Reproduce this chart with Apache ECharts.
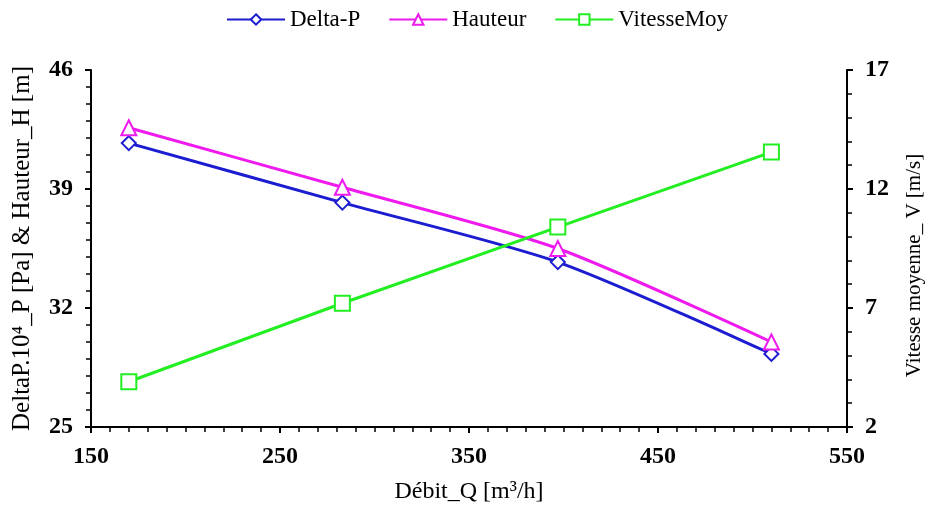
<!DOCTYPE html>
<html><head><meta charset="utf-8">
<script src="https://cdn.jsdelivr.net/npm/echarts@6/dist/echarts.min.js"></script>
<style>html,body{margin:0;padding:0;background:#fff}#c{width:927px;height:508px}</style>
</head><body><div id="c"></div>
<script>
const debit = [170, 283, 397, 510];
const deltaP = [41.7, 38.2, 34.7, 29.3];
const hauteur = [42.6, 39.1, 35.5, 30.0];
const vitesse = [3.9, 7.2, 10.4, 13.55];
const leftTicks = [25, 32, 39, 46];
const rightTicks = [2, 7, 12, 17];
const xTicks = [150, 250, 350, 450, 550];

const font = 'Liberation Serif';
const chart = echarts.init(document.getElementById('c'));
const pair = (ys) => debit.map((x, i) => [x, ys[i]]);
const axisCommon = {
  axisLine: {show: true, lineStyle: {color: '#000', width: 2}},
  axisTick: {show: true, length: 6, lineStyle: {color: '#000', width: 2}},
  minorTick: {show: true, length: 5, lineStyle: {color: '#000', width: 1.5}},
  splitLine: {show: false},
  axisLabel: {color: '#000', fontFamily: font, fontSize: 24, fontWeight: 'bold'},
  nameTextStyle: {color: '#000', fontFamily: font, fontSize: 24}
};
chart.setOption({
  animation: false,
  backgroundColor: '#fff',
  legend: {
    top: 3, left: 221, itemWidth: 58, itemHeight: 13, itemGap: 28,
    textStyle: {fontFamily: font, fontSize: 23, color: '#000'},
    data: ['Delta-P', 'Hauteur', 'VitesseMoy']
  },
  grid: {left: 91, right: 80, top: 70, bottom: 81, containLabel: false, outerBoundsMode: 'none'},
  xAxis: Object.assign({}, axisCommon, {
    type: 'value', min: xTicks[0], max: xTicks[xTicks.length - 1], interval: 100,
    minorTick: Object.assign({}, axisCommon.minorTick, {splitNumber: 10}),
    axisLabel: Object.assign({}, axisCommon.axisLabel, {margin: 18}),
    name: 'Débit_Q [m³/h]', nameLocation: 'middle', nameGap: 53
  }),
  yAxis: [
    Object.assign({}, axisCommon, {
      type: 'value', min: leftTicks[0], max: leftTicks[leftTicks.length - 1], interval: 7,
      minorTick: Object.assign({}, axisCommon.minorTick, {splitNumber: 7}),
      axisLabel: Object.assign({}, axisCommon.axisLabel, {margin: 18}),
      name: 'DeltaP.10⁴_P [Pa] & Hauteur_H [m]', nameLocation: 'middle', nameGap: 56,
      nameTextStyle: {color: '#000', fontFamily: font, fontSize: 25}
    }),
    Object.assign({}, axisCommon, {
      type: 'value', position: 'right', min: rightTicks[0], max: rightTicks[rightTicks.length - 1], interval: 5,
      minorTick: Object.assign({}, axisCommon.minorTick, {splitNumber: 5}),
      axisLabel: Object.assign({}, axisCommon.axisLabel, {margin: 18}),
      name: 'Vitesse moyenne_ V [m/s]', nameLocation: 'middle', nameGap: 57,
      nameTextStyle: {color: '#000', fontFamily: font, fontSize: 21, padding: [0, 34, 0, 0]}
    })
  ],
  series: [
    {name: 'Delta-P', type: 'line', yAxisIndex: 0, data: pair(deltaP), smooth: 0.25,
     symbol: 'emptyDiamond', symbolSize: 14,
     lineStyle: {color: '#1c1cd0', width: 3}, itemStyle: {color: '#1c1cd0', borderWidth: 3}},
    {name: 'Hauteur', type: 'line', yAxisIndex: 0, data: pair(hauteur), smooth: 0.25,
     symbol: 'emptyTriangle', symbolSize: 15,
     lineStyle: {color: '#ee1aee', width: 3}, itemStyle: {color: '#ee1aee', borderWidth: 3}},
    {name: 'VitesseMoy', type: 'line', yAxisIndex: 1, data: pair(vitesse),
     symbol: 'emptyRect', symbolSize: 15,
     lineStyle: {color: '#22ee22', width: 3}, itemStyle: {color: '#22ee22', borderWidth: 3}}
  ]
});
</script></body></html>
